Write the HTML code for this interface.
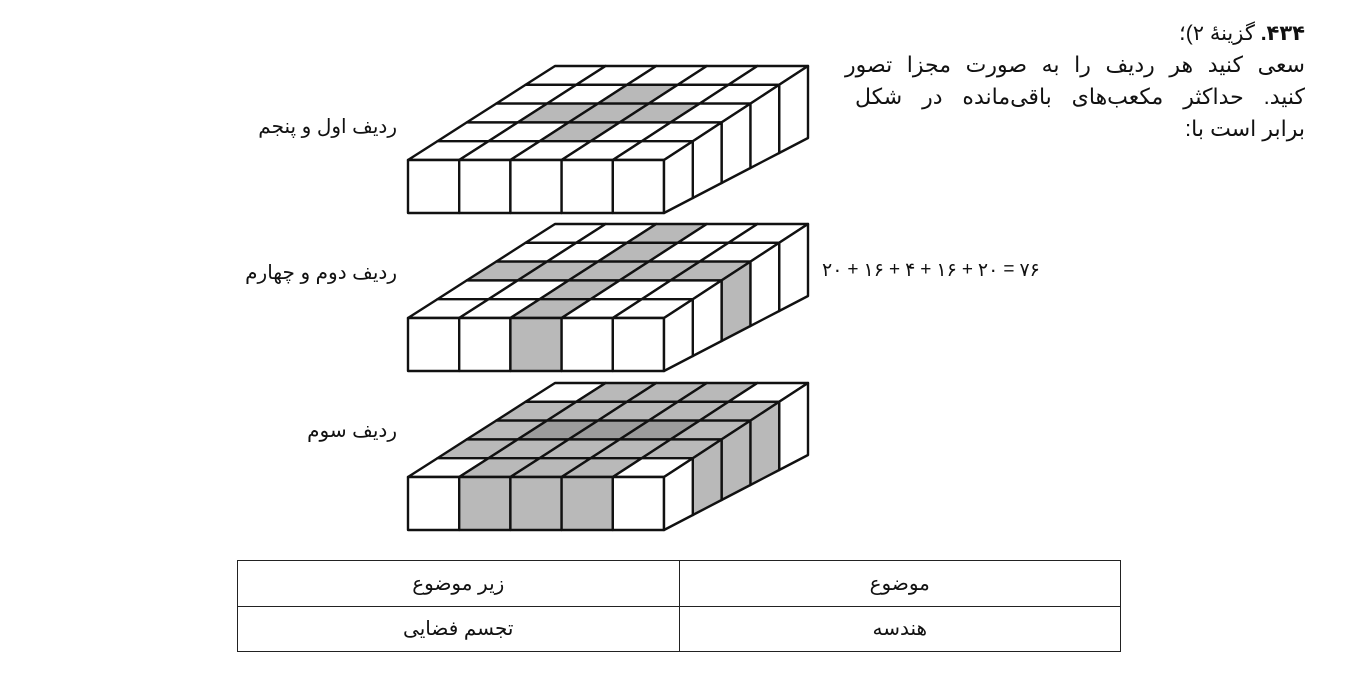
<!DOCTYPE html>
<html><head><meta charset="utf-8"><style>
body{margin:0;width:1346px;height:699px;background:#fff;position:relative;overflow:hidden;font-family:"Liberation Sans","DejaVu Sans",sans-serif;color:#111}
.t{position:absolute;direction:rtl;font-size:20px;white-space:nowrap}
.p{position:absolute;direction:rtl;font-size:22px;white-space:nowrap;right:41px;text-align:justify;text-align-last:justify}
.eq{position:absolute;left:822px;top:259px;display:flex;direction:ltr;font-size:19px;width:218px;justify-content:space-between}
table{position:absolute;left:237px;top:560px;width:884px;height:92px;border-collapse:collapse;direction:rtl}
td{border:1.5px solid #222;text-align:center;font-size:20px;width:50%}
</style></head><body>
<svg id="s" width="1346" height="699" style="position:absolute;left:0;top:0"></svg>
<div class="t" style="right:41px;top:21px;font-size:21px"><b>۴۳۴.</b> گزینهٔ ۲)؛</div>
<div class="p" style="top:52px;width:460px">سعی کنید هر ردیف را به صورت مجزا تصور</div>
<div class="p" style="top:84px;width:450px">کنید. حداکثر مکعب‌های باقی‌مانده در شکل</div>
<div class="t" style="right:41px;top:116px;font-size:22px">برابر است با:</div>
<div class="eq"><span>۲۰</span><span>+</span><span>۱۶</span><span>+</span><span>۴</span><span>+</span><span>۱۶</span><span>+</span><span>۲۰</span><span>=</span><span>۷۶</span></div>
<div class="t" style="right:949px;top:114px">ردیف اول و پنجم</div>
<div class="t" style="right:949px;top:260px">ردیف دوم و چهارم</div>
<div class="t" style="right:949px;top:418px">ردیف سوم</div>
<table><tr><td>موضوع</td><td>زیر موضوع</td></tr><tr><td>هندسه</td><td>تجسم فضایی</td></tr></table>
<script>
var s=document.getElementById('s'),h='';
var G='#b9b9b9',D='#9c9c9c';
function lerp(a,b,t){return [a[0]+(b[0]-a[0])*t,a[1]+(b[1]-a[1])*t]}
function poly(pts,f){h+='<polygon points="'+pts.map(p=>p[0].toFixed(1)+','+p[1].toFixed(1)).join(' ')+'" fill="'+f+'" stroke="#111" stroke-width="2.4" stroke-linejoin="round"/>';}
function layer(oy,top,front,side){
 var FL=[408,160+oy],FR=[664,160+oy],BR=[808,66+oy],BL=[555,66+oy];
 function P(i,j){var b=lerp(BL,BR,i/5),f=lerp(FL,FR,i/5);return lerp(b,f,j/5);}
 for(var j=0;j<5;j++)for(var i=0;i<5;i++){var c=top(i,j);poly([P(i,j),P(i+1,j),P(i+1,j+1),P(i,j+1)],c);}
 for(var i=0;i<5;i++){var x=408+51.2*i;poly([[x,160+oy],[x+51.2,160+oy],[x+51.2,213+oy],[x,213+oy]],front(i));}
 var SB=[808,138+oy],FB=[664,213+oy];
 for(var k=0;k<5;k++){var a=P(5,k),b=P(5,k+1),c=lerp(SB,FB,(k+1)/5),d=lerp(SB,FB,k/5);poly([a,b,c,d],side(k));}
}
layer(0,function(i,j){return ((j==2&&i>=1&&i<=3)||(i==2&&j>=1&&j<=3))?G:'#fff'},function(){return '#fff'},function(){return '#fff'});
layer(158,function(i,j){return (j==2||i==2)?G:'#fff'},function(i){return i==2?G:'#fff'},function(k){return k==2?G:'#fff'});
layer(317,function(i,j){if((i==0||i==4)&&(j==0||j==4))return '#fff';if(j==2&&i>=1&&i<=3)return D;return G},function(i){return (i>=1&&i<=3)?G:'#fff'},function(k){return (k>=1&&k<=3)?G:'#fff'});
s.innerHTML=h;
</script>
</body></html>
